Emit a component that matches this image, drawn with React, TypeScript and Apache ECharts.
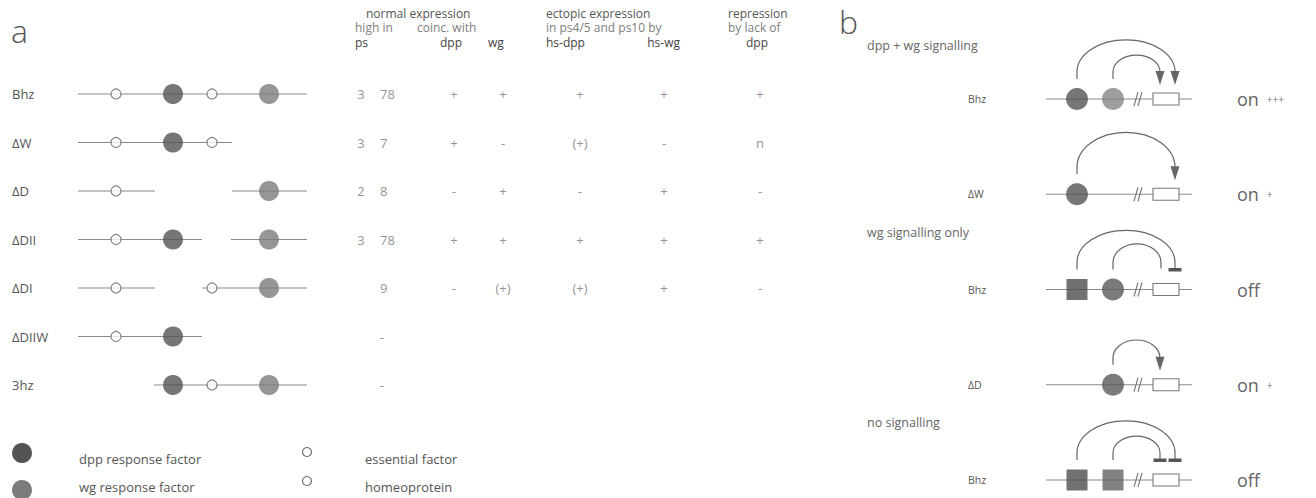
import React, { useEffect, useRef } from "react";
import * as echarts from "echarts";

// ---------------- DATA ----------------
// panel a: constructs (map positions in kb)
const CONSTRUCTS = ["Bhz", "ΔW", "ΔD", "ΔDII", "ΔDI", "ΔDIIW", "3hz"];
const SEGMENTS = [
  { construct: "Bhz", from: 0, to: 2.29 },
  { construct: "ΔW", from: 0, to: 1.54 },
  { construct: "ΔD", from: 0, to: 0.77 },
  { construct: "ΔD", from: 1.54, to: 2.29 },
  { construct: "ΔDII", from: 0, to: 1.24 },
  { construct: "ΔDII", from: 1.53, to: 2.29 },
  { construct: "ΔDI", from: 0, to: 0.77 },
  { construct: "ΔDI", from: 1.24, to: 2.29 },
  { construct: "ΔDIIW", from: 0, to: 1.24 },
  { construct: "3hz", from: 0.76, to: 2.29 },
];
const DPP_SITES = [
  { construct: "Bhz", pos: 0.95 },
  { construct: "ΔW", pos: 0.95 },
  { construct: "ΔDII", pos: 0.95 },
  { construct: "ΔDIIW", pos: 0.95 },
  { construct: "3hz", pos: 0.95 },
];
const WG_SITES = [
  { construct: "Bhz", pos: 1.91 },
  { construct: "ΔD", pos: 1.91 },
  { construct: "ΔDII", pos: 1.91 },
  { construct: "ΔDI", pos: 1.91 },
  { construct: "3hz", pos: 1.91 },
];
const ESSENTIAL_SITES = [
  { construct: "Bhz", pos: 0.38 },
  { construct: "ΔW", pos: 0.38 },
  { construct: "ΔD", pos: 0.38 },
  { construct: "ΔDII", pos: 0.38 },
  { construct: "ΔDI", pos: 0.38 },
  { construct: "ΔDIIW", pos: 0.38 },
];
const HOMEO_SITES = [
  { construct: "Bhz", pos: 1.34 },
  { construct: "ΔW", pos: 1.34 },
  { construct: "ΔDI", pos: 1.34 },
  { construct: "3hz", pos: 1.34 },
];

// panel a: table
const PS_FIRST = ["3", "3", "2", "3", "", "", ""];
const PS_SECOND = ["78", "7", "8", "78", "9", "-", "-"];
const COINC_DPP = ["+", "+", "-", "+", "-", "", ""];
const COINC_WG = ["+", "-", "+", "+", "(+)", "", ""];
const HS_DPP = ["+", "(+)", "-", "+", "(+)", "", ""];
const HS_WG = ["+", "-", "+", "+", "+", "", ""];
const REPRESSION_DPP = ["+", "n", "-", "+", "-", "", ""];

// panel b
const ROWS_B = ["Bhz", "ΔW", "Bhz", "ΔD", "Bhz"];
const STATE_B = ["on", "on", "off", "on", "off"];
const LEVEL_B = ["+++", "+", "", "+", ""];
const SECTIONS_B = ["dpp + wg signalling", "wg signalling only", "no signalling"];
const LINE_END_B = 14.6;
const BREAK_B = 9.3;
const BOX_B = [10.7, 13.3];
const DPP_ACTIVATOR_B = [{ row: 0, pos: 3.1 }, { row: 1, pos: 3.1 }];
const WG_ACTIVATOR_B = [{ row: 0, pos: 6.7 }, { row: 2, pos: 6.7 }, { row: 3, pos: 6.7 }];
const DPP_REPRESSOR_B = [{ row: 2, pos: 3.1 }, { row: 4, pos: 3.1 }];
const WG_REPRESSOR_B = [{ row: 4, pos: 6.7 }];
const ARCS_B = [
  { row: 0, from: 3.1, to: 12.9, height: 0.62, end: "arrow" },
  { row: 0, from: 6.7, to: 11.4, height: 0.46, end: "arrow" },
  { row: 1, from: 3.1, to: 12.9, height: 0.65, end: "arrow" },
  { row: 2, from: 3.1, to: 12.9, height: 0.62, end: "bar" },
  { row: 2, from: 6.7, to: 11.5, height: 0.48, end: "none" },
  { row: 3, from: 6.7, to: 11.4, height: 0.47, end: "arrow" },
  { row: 4, from: 3.1, to: 12.9, height: 0.62, end: "bar" },
  { row: 4, from: 6.7, to: 11.4, height: 0.46, end: "bar" },
];

// ---------------- LAYOUT / STYLE ----------------
const FONT = "'Open Sans', 'Liberation Sans', sans-serif";
const DARK = "#545454";
const GREY = "#7c7c7c";
const LINE = "#8a8a8a";

const TABLE_COLUMNS = [
  { values: PS_FIRST, x: 361, align: "center" },
  { values: PS_SECOND, x: 380, align: "left" },
  { values: COINC_DPP, x: 454, align: "center" },
  { values: COINC_WG, x: 503, align: "center" },
  { values: HS_DPP, x: 580, align: "center" },
  { values: HS_WG, x: 664, align: "center" },
  { values: REPRESSION_DPP, x: 760, align: "center" },
];

const HEADERS = [
  { t: "normal expression", x: 366, y: 13, c: "#555" },
  { t: "ectopic expression", x: 546, y: 13, c: "#555" },
  { t: "repression", x: 728, y: 13, c: "#555" },
  { t: "high in", x: 355, y: 27.5, c: "#808080" },
  { t: "coinc. with", x: 417, y: 27.5, c: "#808080" },
  { t: "in ps4/5 and ps10 by", x: 546, y: 27.5, c: "#808080" },
  { t: "by lack of", x: 728, y: 27.5, c: "#808080" },
  { t: "ps", x: 355, y: 42, c: "#444" },
  { t: "dpp", x: 440, y: 42, c: "#444" },
  { t: "wg", x: 488, y: 42, c: "#444" },
  { t: "hs-dpp", x: 546, y: 42, c: "#444" },
  { t: "hs-wg", x: 680, y: 42, c: "#444", a: "right" },
  { t: "dpp", x: 746, y: 42, c: "#444" },
];
const SECTION_Y = [45, 232, 422];

const rowOf = (name: string) => CONSTRUCTS.indexOf(name);

function txt(text: string, x: number, y: number, size: number, fill: string, align = "left", weight: any = "normal") {
  return {
    type: "text",
    x,
    y,
    silent: true,
    style: { text, fill, fontSize: size, fontFamily: FONT, fontWeight: weight, align, verticalAlign: "middle" },
  };
}

function buildOption() {
  const hiddenAxis = {
    axisLine: { show: false },
    axisTick: { show: false },
    splitLine: { show: false },
  };

  const tableSeries = TABLE_COLUMNS.map((col, ci) => ({
    type: "scatter",
    name: "table" + ci,
    xAxisIndex: 1,
    yAxisIndex: 1,
    symbolSize: 1,
    clip: false,
    itemStyle: { color: "rgba(0,0,0,0)" },
    data: col.values.map((v, r) => [col.x, r, v]).filter((d) => d[2] !== ""),
    label: {
      show: true,
      position: "inside",
      align: col.align,
      verticalAlign: "middle",
      formatter: (p: any) => p.data[2],
      fontSize: 13,
      fontFamily: FONT,
      color: "#777",
    },
  }));

  const graphic: any[] = [];
  graphic.push(txt("a", 11, 30, 32, "#555", "left", 300));
  graphic.push(txt("b", 839, 21, 32, "#555", "left", 300));
  HEADERS.forEach((h) => graphic.push(txt(h.t, h.x, h.y, 12, h.c, h.a || "left")));
  SECTIONS_B.forEach((s, i) => graphic.push(txt(s, 867, SECTION_Y[i], 12.5, "#666")));
  // legend
  graphic.push({ type: "circle", shape: { cx: 22, cy: 453, r: 10 }, style: { fill: DARK } });
  graphic.push({ type: "circle", shape: { cx: 22, cy: 490, r: 10 }, style: { fill: GREY } });
  graphic.push({ type: "circle", shape: { cx: 307, cy: 452, r: 4.5 }, style: { fill: "#fff", stroke: "#666", lineWidth: 1.1 } });
  graphic.push({ type: "circle", shape: { cx: 307, cy: 481, r: 4.5 }, style: { fill: "#fff", stroke: "#666", lineWidth: 1.1 } });
  graphic.push(txt("dpp response factor", 79, 459, 13, "#555"));
  graphic.push(txt("wg response factor", 79, 487, 13, "#555"));
  graphic.push(txt("essential factor", 365, 459, 13, "#555"));
  graphic.push(txt("homeoprotein", 365, 487, 13, "#555"));

  return {
    animation: false,
    backgroundColor: "#ffffff",
    grid: [
      { left: 78, top: 94, width: 229, height: 291 },
      { left: 0, top: 94, width: 1316, height: 291 },
      { left: 1046, top: 99, width: 146, height: 381 },
    ],
    xAxis: [
      { gridIndex: 0, type: "value", min: 0, max: 2.29, show: false },
      { gridIndex: 1, type: "value", min: 0, max: 1316, show: false },
      { gridIndex: 2, type: "value", min: 0, max: LINE_END_B, show: false },
    ],
    yAxis: [
      {
        gridIndex: 0, type: "value", min: 0, max: 6, interval: 1, inverse: true, ...hiddenAxis,
        axisLabel: {
          formatter: (v: number) => CONSTRUCTS[v] ?? "",
          align: "left", margin: 66, fontSize: 13, color: "#555", fontFamily: FONT,
        },
      },
      { gridIndex: 1, type: "value", min: 0, max: 6, interval: 1, inverse: true, show: false },
      {
        gridIndex: 2, type: "value", min: 0, max: 4, interval: 1, inverse: true, position: "left", ...hiddenAxis,
        axisLabel: {
          formatter: (v: number) => ROWS_B[v] ?? "",
          align: "left", margin: 78, fontSize: 10.5, color: "#555", fontFamily: FONT,
        },
      },
      {
        gridIndex: 2, type: "value", min: 0, max: 4, interval: 1, inverse: true, position: "right", ...hiddenAxis,
        axisLabel: {
          formatter: (v: number) =>
            STATE_B[v] === undefined ? "" : LEVEL_B[v] ? `{s|${STATE_B[v]}}{l|${LEVEL_B[v]}}` : `{s|${STATE_B[v]}}`,
          align: "left", margin: 45,
          rich: {
            s: { fontSize: 18, color: "#666", fontFamily: FONT },
            l: { fontSize: 10, color: "#777", fontFamily: FONT, padding: [0, 0, 0, 8] },
          },
        },
      },
    ],
    series: [
      // panel a backbones
      {
        type: "custom",
        name: "segments",
        xAxisIndex: 0,
        yAxisIndex: 0,
        z: 1,
        data: SEGMENTS.map((s) => [s.from, s.to, rowOf(s.construct)]),
        encode: { x: [0, 1], y: 2 },
        renderItem: (params: any, api: any) => {
          const a = api.coord([api.value(0), api.value(2)]);
          const b = api.coord([api.value(1), api.value(2)]);
          return {
            type: "line",
            shape: { x1: a[0], y1: a[1], x2: b[0], y2: b[1] },
            style: { stroke: LINE, lineWidth: 1.2 },
          };
        },
      },
      {
        type: "scatter", name: "dpp response factor", xAxisIndex: 0, yAxisIndex: 0, z: 3, clip: false,
        symbolSize: 20, itemStyle: { color: DARK },
        data: DPP_SITES.map((s) => [s.pos, rowOf(s.construct)]),
      },
      {
        type: "scatter", name: "wg response factor", xAxisIndex: 0, yAxisIndex: 0, z: 3, clip: false,
        symbolSize: 20, itemStyle: { color: GREY },
        data: WG_SITES.map((s) => [s.pos, rowOf(s.construct)]),
      },
      {
        type: "scatter", name: "essential factor", xAxisIndex: 0, yAxisIndex: 0, z: 3, clip: false,
        symbolSize: 10, itemStyle: { color: "#fff", borderColor: "#666", borderWidth: 1.2 },
        data: ESSENTIAL_SITES.map((s) => [s.pos, rowOf(s.construct)]),
      },
      {
        type: "scatter", name: "homeoprotein", xAxisIndex: 0, yAxisIndex: 0, z: 3, clip: false,
        symbolSize: 10, itemStyle: { color: "#fff", borderColor: "#666", borderWidth: 1.2 },
        data: HOMEO_SITES.map((s) => [s.pos, rowOf(s.construct)]),
      },
      ...tableSeries,
      // panel b backbone, break and reporter box
      {
        type: "custom",
        name: "backbone b",
        xAxisIndex: 2,
        yAxisIndex: 2,
        z: 1,
        data: ROWS_B.map((_, i) => [0, LINE_END_B, i]),
        encode: { x: [0, 1], y: 2 },
        renderItem: (params: any, api: any) => {
          const row = api.value(2);
          const a = api.coord([0, row]);
          const e = api.coord([LINE_END_B, row]);
          const br = api.coord([BREAK_B, row]);
          const b0 = api.coord([BOX_B[0], row]);
          const b1 = api.coord([BOX_B[1], row]);
          const y = a[1];
          return {
            type: "group",
            children: [
              { type: "line", shape: { x1: a[0], y1: y, x2: e[0], y2: y }, style: { stroke: LINE, lineWidth: 1.2 } },
              { type: "line", shape: { x1: br[0] - 5, y1: y + 7, x2: br[0] - 1, y2: y - 7 }, style: { stroke: "#777", lineWidth: 1.1 } },
              { type: "line", shape: { x1: br[0] - 1, y1: y + 7, x2: br[0] + 3, y2: y - 7 }, style: { stroke: "#777", lineWidth: 1.1 } },
              {
                type: "rect",
                shape: { x: b0[0], y: y - 6, width: b1[0] - b0[0], height: 12 },
                style: { fill: "#fff", stroke: "#777", lineWidth: 1.1 },
              },
            ],
          };
        },
      },
      // panel b regulatory arcs
      {
        type: "custom",
        name: "regulation",
        xAxisIndex: 2,
        yAxisIndex: 2,
        z: 2,
        data: ARCS_B.map((d) => [d.from, d.to, d.row]),
        encode: { x: [0, 1], y: 2 },
        renderItem: (params: any, api: any) => {
          const d = ARCS_B[params.dataIndex];
          const p1 = api.coord([d.from, d.row]);
          const p2 = api.coord([d.to, d.row]);
          const top = api.coord([d.from, d.row - d.height])[1];
          const y = p1[1];
          const x1 = p1[0];
          const x2 = p2[0];
          const yStart = y - 20;
          const yBase = y - 27;
          const yEnd = d.end === "bar" ? y - 20 : d.end === "none" ? y - 21 : yBase;
          const rx = (x2 - x1) / 2;
          const ry = yBase - top;
          const cx = x1 + rx;
          const k = 0.5523;
          const path =
            `M${x1},${yStart} L${x1},${yBase} ` +
            `C${x1},${yBase - k * ry} ${cx - k * rx},${top} ${cx},${top} ` +
            `C${cx + k * rx},${top} ${x2},${yBase - k * ry} ${x2},${yBase} L${x2},${yEnd}`;
          const children: any[] = [
            { type: "path", shape: { pathData: path }, style: { fill: "none", stroke: "#666", lineWidth: 1.2 } },
          ];
          if (d.end === "arrow") {
            children.push({
              type: "polygon",
              shape: { points: [[x2 - 4.5, yBase - 1], [x2 + 4.5, yBase - 1], [x2, y - 14]] },
              style: { fill: "#666" },
            });
          } else if (d.end === "bar") {
            children.push({
              type: "rect",
              shape: { x: x2 - 6.5, y: y - 21.5, width: 13, height: 3.5 },
              style: { fill: "#555" },
            });
          }
          return { type: "group", children };
        },
      },
      {
        type: "scatter", name: "dpp activator", xAxisIndex: 2, yAxisIndex: 2, z: 4, clip: false,
        symbolSize: 22, itemStyle: { color: DARK },
        data: DPP_ACTIVATOR_B.map((s) => [s.pos, s.row]),
      },
      {
        type: "scatter", name: "wg activator", xAxisIndex: 2, yAxisIndex: 2, z: 4, clip: false,
        symbolSize: 22,
        itemStyle: { color: (p: any) => (p.data[1] === 0 ? "#858585" : "#5a5a5a") },
        data: WG_ACTIVATOR_B.map((s) => [s.pos, s.row]),
      },
      {
        type: "scatter", name: "dpp repressor", xAxisIndex: 2, yAxisIndex: 2, z: 4, clip: false,
        symbol: "rect", symbolSize: 21, itemStyle: { color: "#4e4e4e" },
        data: DPP_REPRESSOR_B.map((s) => [s.pos, s.row]),
      },
      {
        type: "scatter", name: "wg repressor", xAxisIndex: 2, yAxisIndex: 2, z: 4, clip: false,
        symbol: "rect", symbolSize: 21, itemStyle: { color: "#626262" },
        data: WG_REPRESSOR_B.map((s) => [s.pos, s.row]),
      },
    ],
    graphic,
  };
}

export default function App() {
  const ref = useRef<HTMLDivElement>(null);
  useEffect(() => {
    document.body.style.margin = "0";
    if (!ref.current) return;
    const chart = echarts.init(ref.current, undefined, { renderer: "svg" });
    chart.setOption(buildOption() as any);
    return () => chart.dispose();
  }, []);
  return <div ref={ref} style={{ width: 1316, height: 498 }} />;
}
